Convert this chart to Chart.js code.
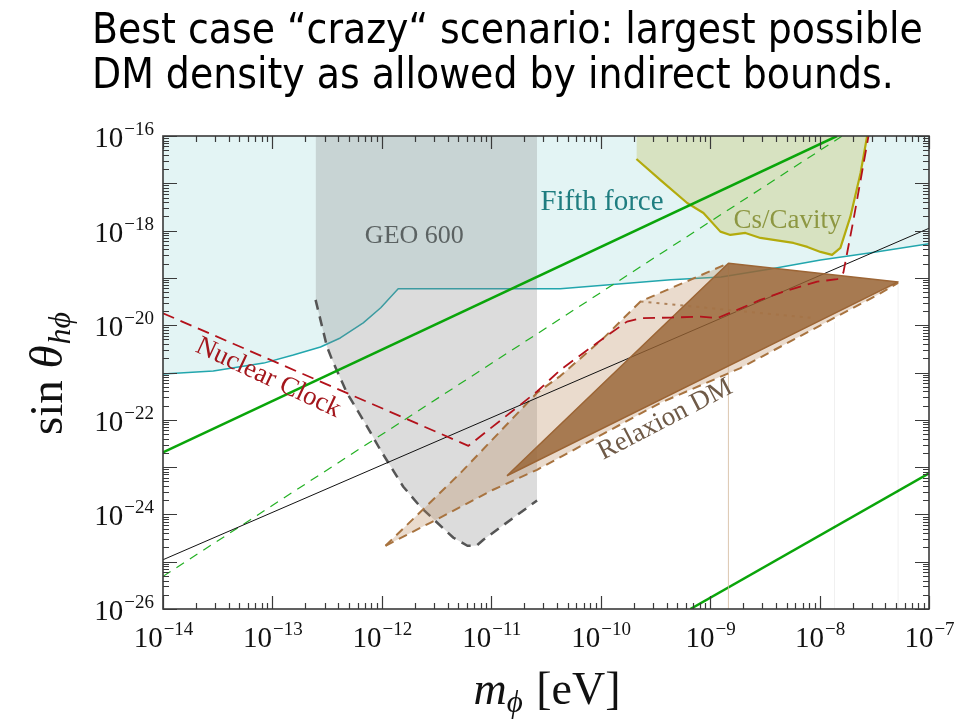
<!DOCTYPE html>
<html><head><meta charset="utf-8">
<script src="https://cdn.jsdelivr.net/npm/chart.js@4.4.0/dist/chart.umd.min.js"></script>
<style>html,body{margin:0;padding:0;background:#fff;overflow:hidden}canvas{display:block}</style>
</head><body>
<canvas id="c" width="971" height="721"></canvas>
<script>
// ---------- data (m_phi in eV, sin theta) ----------
const fifthForceMass = [1e-14, 2.88e-14, 8.32e-14, 1.55e-13, 2.75e-13, 4.17e-13, 6.76e-13, 9.77e-13, 1.41e-12, 3.24e-12, 4.27e-11, 4.37e-10, 1.26e-9, 3.55e-9, 1.02e-8, 2.95e-8, 1e-7];
const fifthForceSin  = [9.33e-22, 1.07e-21, 1.58e-21, 2.34e-21, 3.47e-21, 5.37e-21, 1.12e-20, 2.34e-20, 5.89e-20, 5.89e-20, 5.89e-20, 9.12e-20, 1.05e-19, 1.55e-19, 2.40e-19, 3.39e-19, 5.25e-19];

const csCavityMass = [2.12e-10, 3.52e-10, 6.17e-10, 8.69e-10, 1.24e-9, 1.53e-9, 2.10e-9, 2.88e-9, 5.77e-9, 7.74e-9, 1.02e-8, 1.30e-8, 1.55e-8, 1.91e-8, 2.37e-8, 2.72e-8];
const csCavitySin  = [3.27e-17, 1.17e-17, 3.84e-18, 2.36e-18, 9.51e-19, 8.09e-19, 8.93e-19, 7.00e-19, 5.48e-19, 4.52e-19, 3.54e-19, 3.06e-19, 4.31e-19, 1.95e-18, 1.65e-17, 1e-16];

const geoMass = [2.48e-13, 3.15e-13, 3.51e-13, 4.81e-13, 7.33e-13, 9.68e-13, 1.57e-12, 2.25e-12, 3.21e-12, 4.51e-12, 6.05e-12, 7.31e-12, 8.47e-12, 2.62e-11];
const geoSin  = [3.43e-20, 3.53e-21, 1.85e-21, 3.66e-22, 7.21e-23, 2.32e-23, 3.84e-24, 1.45e-24, 6.65e-25, 3.21e-25, 2.17e-25, 2.17e-25, 2.91e-25, 1.97e-24];

const nuclearClockMass = [1e-14, 6.18e-12, 2.62e-11, 4.29e-11, 1.06e-10, 1.74e-10, 2.31e-10, 4.34e-10, 8.15e-10, 1.16e-9, 1.77e-9, 2.88e-9, 4.68e-9, 9.51e-9, 1.45e-8, 1.65e-8, 2.04e-8, 2.80e-8];
const nuclearClockSin  = [1.79e-20, 2.82e-23, 3.96e-22, 1.14e-21, 5.32e-21, 1.19e-20, 1.41e-20, 1.45e-20, 1.52e-20, 1.41e-20, 2.11e-20, 3.43e-20, 5.13e-20, 8.36e-20, 9.38e-20, 1.29e-19, 1.68e-18, 1e-16];

const greenSolidMass = [1e-14, 1.445e-8];
const greenSolidSin  = [2.04e-23, 1e-16];
const greenDashedMass = [1e-14, 1.61e-8];
const greenDashedSin  = [4.9e-26, 1e-16];
const greenLowMass = [6.6e-10, 1e-7];
const greenLowSin  = [1e-26, 7.4e-24];
const blackLineMass = [1e-14, 1e-7];
const blackLineSin  = [1.1e-25, 1.12e-18];

const relaxionUpperMass = [1.08e-12, 5.22e-12, 2.62e-11, 4.29e-11, 1.06e-10, 2.31e-10, 1.47e-9];
const relaxionUpperSin  = [2.17e-25, 7.46e-24, 3.72e-22, 8.49e-22, 5.32e-21, 3.18e-20, 2.04e-19];
const relaxionLowerMass = [1.08e-12, 2.77e-12, 1.04e-11, 2.62e-11, 3.52e-10, 1.89e-9, 3.61e-8, 5.22e-8];
const relaxionLowerSin  = [2.17e-25, 6.65e-25, 3.32e-24, 8.77e-24, 2.29e-22, 1.24e-21, 4.75e-20, 7.84e-20];
const relaxionTipMass = [5.22e-8];
const relaxionTipSin  = [8.22e-20];
const relaxionCoreMass = [1.39e-11, 1.47e-9, 5.22e-8, 1.39e-11];
const relaxionCoreSin  = [6.55e-24, 2.04e-19, 8.22e-20, 6.55e-24];
const relaxionDottedMass = [2.31e-10, 8.26e-9];
const relaxionDottedSin  = [3.18e-20, 1.43e-20];

const edgeLineMass = [1.47e-9, 1.37e-8, 5.22e-8];
const edgeLineTopSin = [2.04e-19, 1.17e-20, 8.22e-20];

const xTickValues = [1e-14, 1e-13, 1e-12, 1e-11, 1e-10, 1e-9, 1e-8, 1e-7];
const xTickExponents = ['\u221214', '\u221213', '\u221212', '\u221211', '\u221210', '\u22129', '\u22128', '\u22127'];
const yTickValues = [1e-16, 1e-18, 1e-20, 1e-22, 1e-24, 1e-26];
const yTickExponents = ['\u221216', '\u221218', '\u221220', '\u221222', '\u221224', '\u221226'];

const titleLines = ['Best case \u201Ccrazy\u201C scenario: largest possible', 'DM density as allowed by indirect bounds.'];

const regionLabels = [
  {text: 'Fifth force', m: 2.81e-11, s: 2.73e-18, angle: 0, size: 29, color: '#1f7d80', align: 'left'},
  {text: 'GEO 600', m: 1.98e-12, s: 5.48e-19, angle: 0, size: 26, color: '#5b6262', align: 'center'},
  {text: 'Cs/Cavity', m: 5.09e-9, s: 1.14e-18, angle: 0, size: 27, color: '#8d9742', align: 'center'},
  {text: 'Nuclear Clock', m: 8.6e-14, s: 5.6e-22, angle: 25, size: 27, color: '#a3161c', align: 'center'},
  {text: 'Relaxion DM', m: 4.16e-10, s: 7.4e-23, angle: -27.5, size: 27, color: '#6f5a47', align: 'center'}
];

// ---------- helpers ----------
const pts = (ms, ss) => ms.map((m, i) => ({x: m, y: ss[i]}));
const SERIF = '"Liberation Serif", "DejaVu Serif", serif';

const layers = [
  {data: pts(fifthForceMass, fifthForceSin), borderColor: '#22a6ad', borderWidth: 1.5, fill: 'end', backgroundColor: '#e3f4f4'},
  {data: pts(csCavityMass, csCavitySin), borderColor: '#b3ab0c', borderWidth: 2.2, fill: 'end', backgroundColor: 'rgba(200,205,130,0.45)'},
  {data: pts(geoMass, geoSin), borderColor: '#555555', borderWidth: 2.5, borderDash: [10, 7], fill: 'end', backgroundColor: 'rgba(128,128,128,0.28)'},
  {data: pts(greenSolidMass, greenSolidSin), borderColor: '#0aa50a', borderWidth: 2.5},
  {data: pts(greenDashedMass, greenDashedSin), borderColor: '#22b022', borderWidth: 1.2, borderDash: [9, 7]},
  {data: pts(greenLowMass, greenLowSin), borderColor: '#0aa50a', borderWidth: 2.5},
  {data: pts(relaxionUpperMass.concat(relaxionTipMass, relaxionLowerMass.slice().reverse()), relaxionUpperSin.concat(relaxionTipSin, relaxionLowerSin.slice().reverse())), borderWidth: 0, borderColor: 'rgba(0,0,0,0)', fill: 'shape', backgroundColor: 'rgba(185,135,90,0.3)'},
  {data: pts([edgeLineMass[0], edgeLineMass[0]], [edgeLineTopSin[0], 1e-26]), borderColor: 'rgba(215,190,160,0.4)', borderWidth: 1},
  {data: pts([edgeLineMass[1], edgeLineMass[1]], [edgeLineTopSin[1], 1e-26]), borderColor: 'rgba(0,0,0,0.025)', borderWidth: 1},
  {data: pts([edgeLineMass[2], edgeLineMass[2]], [edgeLineTopSin[2], 1e-26]), borderColor: 'rgba(0,0,0,0.025)', borderWidth: 1},
  {data: pts(relaxionUpperMass, relaxionUpperSin), borderColor: '#a8733f', borderWidth: 2, borderDash: [9, 6]},
  {data: pts(relaxionLowerMass, relaxionLowerSin), borderColor: '#a8733f', borderWidth: 2, borderDash: [9, 6]},
  {data: pts(blackLineMass, blackLineSin), borderColor: '#111111', borderWidth: 1},
  {data: pts(relaxionCoreMass, relaxionCoreSin), borderColor: '#9c6535', borderWidth: 1.5, fill: 'shape', backgroundColor: 'rgba(150,97,50,0.8)'},
  {data: pts(relaxionDottedMass, relaxionDottedSin), borderColor: 'rgba(165,115,70,0.85)', borderWidth: 2, borderDash: [3, 5]},
  {data: pts(nuclearClockMass, nuclearClockSin), borderColor: '#b3121b', borderWidth: 1.8, borderDash: [12, 7]}
];
const datasets = layers.map((d, i) => Object.assign({
  type: 'line', pointRadius: 0, tension: 0, fill: false, order: layers.length - i, borderJoinStyle: 'round'
}, d));

function drawPow(ctx, exp, x, baseline, align) {
  ctx.font = '29px ' + SERIF;
  const w1 = ctx.measureText('10').width;
  ctx.font = '19px ' + SERIF;
  const w2 = ctx.measureText(exp).width;
  const start = align === 'center' ? x - (w1 + w2) / 2 : x - (w1 + w2);
  ctx.font = '29px ' + SERIF;
  ctx.fillText('10', start, baseline);
  ctx.font = '19px ' + SERIF;
  ctx.fillText(exp, start + w1 + 1, baseline - 12);
}

const decor = {
  id: 'decor',
  beforeDraw(chart) {
    const ctx = chart.ctx;
    ctx.save(); ctx.fillStyle = '#fff'; ctx.fillRect(0, 0, chart.width, chart.height); ctx.restore();
  },
  afterDatasetsDraw(chart) {
    const {ctx, scales: {x, y}} = chart;
    regionLabels.forEach(l => {
      ctx.save();
      ctx.translate(x.getPixelForValue(l.m), y.getPixelForValue(l.s));
      ctx.rotate(l.angle * Math.PI / 180);
      ctx.font = l.size + 'px ' + SERIF;
      ctx.fillStyle = l.color;
      ctx.textAlign = l.align;
      ctx.textBaseline = 'alphabetic';
      ctx.fillText(l.text, 0, 0);
      ctx.restore();
    });
  },
  afterDraw(chart) {
    const {ctx, chartArea: a, scales: {x, y}} = chart;
    ctx.save();
    // frame
    ctx.strokeStyle = '#3a3a3a';
    ctx.lineWidth = 1.6;
    ctx.strokeRect(a.left, a.top, a.right - a.left, a.bottom - a.top);
    // ticks
    ctx.lineWidth = 1.2;
    ctx.beginPath();
    for (let e = -14; e <= -7; e++) {
      for (let k = 1; k <= 9; k++) {
        const v = k * Math.pow(10, e);
        if (v > 1.0001e-7) break;
        const px = Math.round(x.getPixelForValue(v)) + 0.5;
        const len = k === 1 ? 13 : 6;
        ctx.moveTo(px, a.bottom); ctx.lineTo(px, a.bottom - len);
        ctx.moveTo(px, a.top); ctx.lineTo(px, a.top + len);
      }
    }
    for (let e = -26; e <= -16; e++) {
      for (let k = 1; k <= 9; k++) {
        const v = k * Math.pow(10, e);
        if (v > 1.0001e-16) break;
        const py = Math.round(y.getPixelForValue(v)) + 0.5;
        const len = k === 1 ? 14 : 6;
        ctx.moveTo(a.left, py); ctx.lineTo(a.left + len, py);
        ctx.moveTo(a.right, py); ctx.lineTo(a.right - len, py);
      }
    }
    ctx.stroke();
    // tick labels
    ctx.fillStyle = '#111';
    ctx.textAlign = 'left';
    ctx.textBaseline = 'alphabetic';
    xTickValues.forEach((v, i) => drawPow(ctx, xTickExponents[i], x.getPixelForValue(v), a.bottom + 38, 'center'));
    yTickValues.forEach((v, i) => drawPow(ctx, yTickExponents[i], a.left - 10, y.getPixelForValue(v) + 11, 'right'));
    // x axis title
    const cx = (a.left + a.right) / 2;
    ctx.font = 'italic 46px ' + SERIF; const wm = ctx.measureText('m').width;
    ctx.font = 'italic 31px ' + SERIF; const wp = ctx.measureText('\u03D5').width;
    ctx.font = '46px ' + SERIF; const we = ctx.measureText(' [eV]').width;
    let sx = cx - (wm + wp + we) / 2;
    const bx = 704;
    ctx.font = 'italic 46px ' + SERIF; ctx.fillText('m', sx, bx);
    ctx.font = 'italic 31px ' + SERIF; ctx.fillText('\u03D5', sx + wm, bx + 8);
    ctx.font = '46px ' + SERIF; ctx.fillText(' [eV]', sx + wm + wp + 2, bx);
    // y axis title
    ctx.save();
    ctx.translate(62, 374);
    ctx.rotate(-Math.PI / 2);
    ctx.font = '47px ' + SERIF; const ws = ctx.measureText('sin ').width;
    ctx.font = 'italic 47px ' + SERIF; const wt = ctx.measureText('\u03B8').width;
    ctx.font = 'italic 32px ' + SERIF; const wh = ctx.measureText('h\u03D5').width;
    let sy = -(ws + wt + wh) / 2;
    ctx.font = '47px ' + SERIF; ctx.fillText('sin ', sy, 0);
    ctx.font = 'italic 47px ' + SERIF; ctx.fillText('\u03B8', sy + ws, 0);
    ctx.font = 'italic 32px ' + SERIF; ctx.fillText('h\u03D5', sy + ws + wt + 1, 8);
    ctx.restore();
    // title
    const TF = '"DejaVu Sans Condensed", "DejaVu Sans", sans-serif';
    ctx.font = '36px ' + TF;
    const w0 = ctx.measureText(titleLines[0]).width;
    const fs = 36 * 830 / w0;
    ctx.font = fs.toFixed(1) + 'px ' + TF;
    ctx.fillStyle = '#000';
    ctx.fillText(titleLines[0], 92, 43);
    ctx.fillText(titleLines[1], 92, 88);
    ctx.restore();
  }
};

new Chart(document.getElementById('c'), {
  type: 'line',
  data: {datasets},
  options: {
    responsive: false,
    animation: false,
    devicePixelRatio: 1,
    events: [],
    layout: {padding: {left: 163, top: 136, right: 42, bottom: 112}},
    plugins: {legend: {display: false}, tooltip: {enabled: false}, title: {display: false}},
    scales: {
      x: {type: 'logarithmic', min: 1e-14, max: 1e-7, display: false},
      y: {type: 'logarithmic', min: 1e-26, max: 1e-16, display: false}
    }
  },
  plugins: [decor]
});
</script>
</body></html>
